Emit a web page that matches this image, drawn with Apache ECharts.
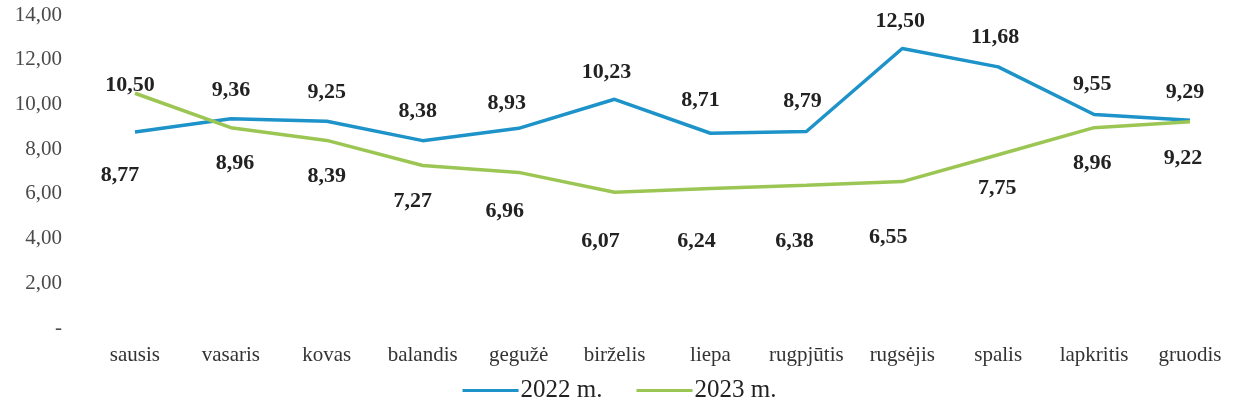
<!DOCTYPE html>
<html><head><meta charset="utf-8">
<script src="https://cdn.jsdelivr.net/npm/echarts@6/dist/echarts.min.js"></script>
<style>html,body{margin:0;padding:0;background:#fff}#c{width:1239px;height:420px}</style>
</head><body><div id="c"></div>
<script>
const categories = ['sausis','vasaris','kovas','balandis','gegužė','birželis','liepa','rugpjūtis','rugsėjis','spalis','lapkritis','gruodis'];
const values2022 = [8.77, 9.36, 9.25, 8.38, 8.93, 10.23, 8.71, 8.79, 12.50, 11.68, 9.55, 9.29];
const values2023 = [10.50, 8.96, 8.39, 7.27, 6.96, 6.07, 6.24, 6.38, 6.55, 7.75, 8.96, 9.22];
const seriesNames = ['2022 m.', '2023 m.'];

// label placement (style only): position, distance, horizontal shift
const labelPos2022 = ['bottom','top','top','top','top','top','top','top','top','top','top','top'];
const labelDist2022 = [32, 17, 18, 18, 14, 16, 22, 19, 16, 19, 19, 17];
const labelDx2022 = [-15, 0, 0, -5, -12, -8, -10, -4, -2, -3, -2, -5];
const labelPos2023 = ['top','bottom','bottom','bottom','bottom','bottom','bottom','bottom','bottom','bottom','bottom','bottom'];
const labelDist2023 = [-3, 25, 25, 25, 28, 38, 42, 45, 45, 23, 25, 25];
const labelDx2023 = [-5, 4, 0, -10, -14, -14, -14, -12, -14, -1, -2, -7];

const fmt = v => v === 0 ? '-' : v.toFixed(2).replace('.', ',');
const serif = '"Liberation Serif", "DejaVu Serif", serif';

function mkData(vals, pos, dist, dx) {
  return vals.map((v, i) => ({
    value: v,
    label: { position: pos[i], distance: dist[i], offset: [dx[i], 0] }
  }));
}

const chart = echarts.init(document.getElementById('c'));
chart.setOption({
  animation: false,
  grid: { left: 87, right: 1, top: 15, bottom: 92 },
  legend: {
    bottom: 12, left: 'center',
    itemWidth: 56, itemHeight: 3, itemGap: 34,
    icon: 'rect',
    textStyle: { fontFamily: serif, fontSize: 25, color: '#222', padding: [0, 0, 0, -3] },
    data: seriesNames
  },
  xAxis: {
    type: 'category', data: categories, boundaryGap: true,
    axisLine: { show: false }, axisTick: { show: false },
    axisLabel: { fontFamily: serif, fontSize: 21, color: '#333', margin: 17, interval: 0 }
  },
  yAxis: {
    type: 'value', min: 0, max: 14, interval: 2,
    splitLine: { show: false }, axisLine: { show: false }, axisTick: { show: false },
    axisLabel: { fontFamily: serif, fontSize: 21, color: '#4a4a4a', margin: 25, formatter: fmt }
  },
  series: [
    {
      name: seriesNames[0], type: 'line', data: mkData(values2022, labelPos2022, labelDist2022, labelDx2022),
      symbol: 'circle', symbolSize: 0.1, showSymbol: true,
      lineStyle: { width: 3.5, color: '#1d93c9' }, itemStyle: { color: '#1d93c9' },
      label: { show: true, formatter: p => fmt(p.value), fontFamily: serif, fontSize: 22, fontWeight: 'bold', color: '#222' }
    },
    {
      name: seriesNames[1], type: 'line', data: mkData(values2023, labelPos2023, labelDist2023, labelDx2023),
      symbol: 'circle', symbolSize: 0.1, showSymbol: true,
      lineStyle: { width: 3.5, color: '#9cc653' }, itemStyle: { color: '#9cc653' },
      label: { show: true, formatter: p => fmt(p.value), fontFamily: serif, fontSize: 22, fontWeight: 'bold', color: '#222' }
    }
  ]
});
</script></body></html>
